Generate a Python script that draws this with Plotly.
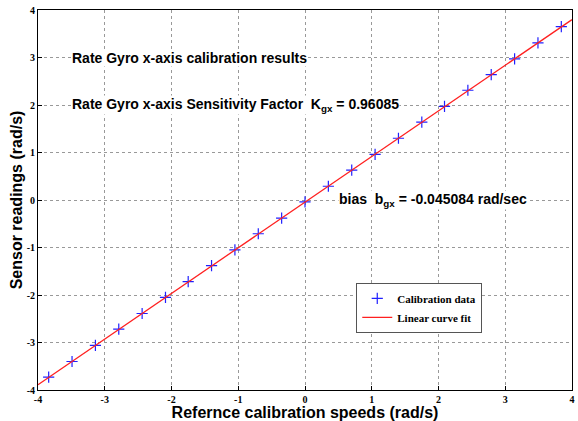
import plotly.graph_objects as go

# Calibration data (rad/s)
ref_speeds = [-3.84, -3.49, -3.14, -2.79, -2.44, -2.09, -1.75, -1.40, -1.05, -0.70, -0.35, 0.0,
              0.35, 0.70, 1.05, 1.40, 1.75, 2.09, 2.44, 2.79, 3.14, 3.49, 3.84]
sensor_readings = [-3.73, -3.40, -3.06, -2.72, -2.39, -2.05, -1.72, -1.38, -1.05, -0.71, -0.38, -0.04,
                   0.29, 0.63, 0.96, 1.30, 1.64, 1.97, 2.31, 2.64, 2.97, 3.31, 3.65]
fit_x = [-4.0, 4.0]
fit_y = [-3.888, 3.798]
tick_vals = [-4, -3, -2, -1, 0, 1, 2, 3, 4]
tick_text = ["-4", "-3", "-2", "-1", "0", "1", "2", "3", "4"]

fig = go.Figure()
fig.add_trace(go.Scatter(x=ref_speeds, y=sensor_readings, mode="markers",
                         name="<b>Calibration data</b>",
                         marker=dict(symbol="cross-thin", size=8, line=dict(color="#2020ff", width=1.2),
                                     color="#2020ff")))
fig.add_trace(go.Scatter(x=fit_x, y=fit_y, mode="lines", name="<b>Linear curve fit</b>",
                         line=dict(color="#ff2020", width=1.3)))

axis_common = dict(range=[-4, 4], tickvals=tick_vals, ticktext=tick_text,
                   showgrid=True, gridcolor="#999999", griddash="dot", gridwidth=1,
                   showline=True, linecolor="black", linewidth=1, mirror=True,
                   ticks="inside", ticklen=4, tickcolor="black", zeroline=False,
                   tickfont=dict(family="Liberation Serif", size=10, color="black", weight="bold"))

fig.update_xaxes(**axis_common,
                 title=dict(text="<b>Refernce calibration speeds (rad/s)</b>", standoff=0,
                            font=dict(family="Liberation Sans", size=16, color="black")))
fig.update_yaxes(**axis_common,
                 title=dict(text="<b>Sensor readings (rad/s)</b>", standoff=0,
                            font=dict(family="Liberation Sans", size=16, color="black")))

ann_font = dict(family="Liberation Sans", size=14, color="black")
fig.add_annotation(x=-3.5, y=3, xref="x", yref="y", xanchor="left", yanchor="middle",
                   text="<b>Rate Gyro x-axis calibration results</b>", showarrow=False,
                   font=ann_font, bgcolor="white", borderpad=0)
fig.add_annotation(x=-3.5, y=2, xref="x", yref="y", xanchor="left", yanchor="middle",
                   text="<b>Rate Gyro x-axis Sensitivity Factor  K<sub>gx</sub> = 0.96085</b>",
                   showarrow=False, font=ann_font, bgcolor="white", borderpad=0)
fig.add_annotation(x=0.5, y=0, xref="x", yref="y", xanchor="left", yanchor="middle",
                   text="<b>bias  b<sub>gx</sub> = -0.045084 rad/sec</b>",
                   showarrow=False, font=ann_font, bgcolor="white", borderpad=0)

fig.update_layout(
    width=578, height=421,
    margin=dict(l=38, r=3, t=10, b=31),
    paper_bgcolor="white", plot_bgcolor="white",
    showlegend=True,
    legend=dict(x=0.596, y=0.282, xanchor="left", yanchor="top",
                bgcolor="white", bordercolor="#555555", borderwidth=1,
                font=dict(family="Liberation Serif", size=11, color="black"),
                tracegroupgap=0, itemwidth=30),
)

fig.write_html("out.html")
